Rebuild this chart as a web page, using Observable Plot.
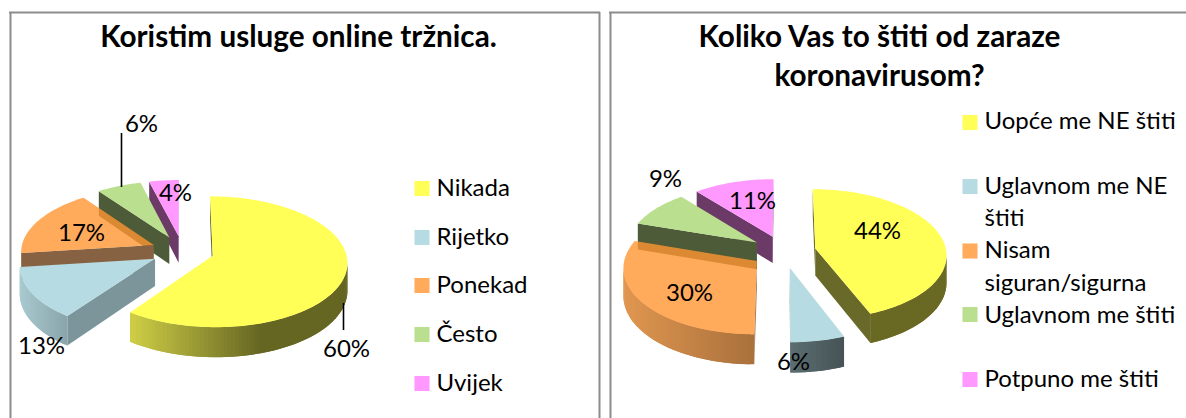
<!DOCTYPE html>
<html><head><meta charset="utf-8">
<script src="https://cdn.jsdelivr.net/npm/d3@7"></script>
<script src="https://cdn.jsdelivr.net/npm/@observablehq/plot@0.6"></script>
<style>html,body{margin:0;padding:0;background:#fff;overflow:hidden}svg{display:block}</style>
</head><body><div id="chart"></div>
<script>
// ---- data
const title1 = ["Koristim usluge online tržnica."];
const categories1 = ["Nikada", "Rijetko", "Ponekad", "Često", "Uvijek"];
const values1 = [60, 13, 17, 6, 4];
const title2 = ["Koliko Vas to štiti od zaraze", "koronavirusom?"];
const categories2 = ["Uopće me NE štiti", "Uglavnom me NE", "štiti", "Nisam", "siguran/sigurna", "Uglavnom me štiti", "Potpuno me štiti"];
const values2 = [44, 6, 30, 9, 11];

// ---- styles and layout (separate from the data)
const colors = ["#FFFF57", "#B7DBE2", "#FFAB5B", "#B9DF8F", "#FF99FF"];
const font = "Lato, Carlito, 'Open Sans', sans-serif";
const pieLayouts = [
  {cx: 182, cy: 250.5, rx: 133, ry: 64, k: 0.092, explode: 0.237, depth: 27,
   arcShade: [[0.81, 0.40, 0.6], [0.92, 0.75, 1], [0.8, 0.8, 1], [0.42, 0.42, 1], [0.42, 0.42, 1]],
   edgeColor: ["#69692A", "#7B959B", "#876242", "#4D5B38", "#6B3A66"]},
  {cx: 783, cy: 251, rx: 131, ry: 65, k: 0.088, explode: 0.248, depth: 27,
   arcShade: [[0.41, 0.41, 1], [0.5, 0.38, 1], [0.88, 0.66, 1], [0.42, 0.42, 1], [0.42, 0.42, 1]],
   edgeColor: ["#69692A", "#4B5D61", "#A87B50", "#4D5B38", "#6B3A66"]}
];

const shadeOf = (c, f) => { const r = d3.rgb(c); return d3.rgb(r.r * f, r.g * f, r.b * f).formatHex(); };

function pieMarks(values, L) {
  const total = d3.sum(values);
  const project = (X, Y, z = 0) => {
    const s = 1 / (1 - L.k * Y);
    return {x: L.cx + L.rx * X * s, y: L.cy + L.ry * Y * s + L.depth * z * s};
  };
  const slices = [];
  let acc = 0;
  values.forEach((v, i) => {
    const a0 = acc / total * 360, a1 = (acc + v) / total * 360;
    acc += v;
    const mid = (a0 + a1) / 2 * Math.PI / 180;
    const ox = L.explode * Math.sin(mid), oy = -L.explode * Math.cos(mid);
    const rim = [];
    const n = Math.max(2, Math.ceil((a1 - a0) / 1.5));
    for (let j = 0; j <= n; j++) {
      const t = (a0 + (a1 - a0) * j / n) * Math.PI / 180;
      rim.push([ox + Math.sin(t), oy - Math.cos(t)]);
    }
    slices.push({i, ox, oy, rim});
  });
  const marks = [];
  const poly = (pts, id, color) => pts.map(p => ({x: p.x, y: p.y, id, color}));
  // painter's order: back slices first
  for (const sl of [...slices].reverse()) {
    const {i, ox, oy, rim} = sl;
    const base = colors[i];
    const wall = [];
    const apex = project(ox, oy), apexLow = project(ox, oy, 1);
    const midRim = project(...rim[Math.floor(rim.length / 2)]);
    // radial walls facing the viewer
    [rim[0], rim[rim.length - 1]].forEach((r, e) => {
      const p = project(...r), pl = project(r[0], r[1], 1);
      const dx = p.x - apex.x, dy = p.y - apex.y;
      const crossDown = dx;
      const crossFace = dx * (midRim.y - apex.y) - dy * (midRim.x - apex.x);
      if (crossDown * crossFace < 0)
        wall.push(...poly([apex, p, pl, apexLow], `e${i}${e}`, L.edgeColor[i]));
    });
    // rim wall, shaded by screen position; each strip runs under the next so no seams show
    const xs = rim.map(r => project(...r).x);
    const [x0, x1] = d3.extent(xs);
    const [sl0, sl1, flat] = L.arcShade[i];
    for (let j = 0; j < rim.length - 1; j++) {
      const a = project(...rim[j]), b = project(...rim[j + 1]);
      if (b.x >= a.x) continue;
      const tt = Math.min(1, ((a.x + b.x) / 2 - x0) / (x1 - x0) / flat);
      const f = sl0 + (sl1 - sl0) * tt;
      const nx = rim[Math.min(j + 2, rim.length - 1)];
      wall.push(...poly([a, project(...nx), project(...nx, 1), project(...rim[j], 1)], `r${i}-${j}`, shadeOf(base, f)));
    }
    if (wall.length)
      marks.push(Plot.line(wall, {x: "x", y: "y", z: "id", fill: "color", stroke: "none", curve: "linear-closed"}));
    // top face; the orange one lets the wall behind it show through
    const faceColor = i === 2 ? "#FF9632" : base;
    const face = poly([apex, ...rim.map(r => project(...r))], `f${i}`, faceColor);
    marks.push(Plot.line(face, {x: "x", y: "y", z: "id", fill: "color", stroke: "none", fillOpacity: i === 2 ? 0.8 : 1, curve: "linear-closed"}));
  }
  return marks;
}

// ---- text tables
const tx = (text, x, y) => ({text, x, y});
const titles = [tx(title1[0], 298, 37), tx(title2[0], 879, 37), tx(title2[1], 879, 76)];
const valueLabels = [
  [values1[0], 346, 349], [values1[1], 41, 346], [values1[2], 81, 233], [values1[3], 141, 124], [values1[4], 175, 193],
  [values2[0], 877, 231], [values2[1], 793, 362], [values2[2], 689, 293], [values2[3], 665, 179], [values2[4], 752, 201]
].map(([v, x, y]) => tx(v + "%", x, y));
const legendText = [
  ...[188, 237, 285, 334, 383].map((y, i) => tx(categories1[i], 436, y)),
  ...[121, 186, 218, 250, 283, 315, 379].map((y, i) => tx(categories2[i], 984, y))
];
const legendSwatches = [
  ...[188, 237, 285, 334, 383].map((y, i) => ({x: 414, y, c: colors[i]})),
  ...[122, 186, 250.5, 314, 379].map((y, i) => ({x: 962, y, c: colors[i]}))
];
const leaders = [{x: 121, y1: 133, y2: 187}, {x: 343, y1: 303, y2: 330}];
const frameV = [{x: 10}, {x: 599}, {x: 610}];
const frameH = [{x1: 9, x2: 600}, {x1: 609, x2: 1186}];

const plot = Plot.plot({
  width: 1186, height: 418, margin: 0,
  x: {domain: [0, 1186], range: [0, 1186], axis: null},
  y: {domain: [0, 418], range: [0, 418], axis: null},
  color: {type: "identity"},
  style: {background: "#fff"},
  marks: [
    Plot.ruleX(frameV, {x: "x", y1: 12, y2: 418, stroke: "#8c8c8c", strokeWidth: 2}),
    Plot.ruleY(frameH, {y: 12, x1: "x1", x2: "x2", stroke: "#8c8c8c", strokeWidth: 2}),
    ...pieMarks(values1, pieLayouts[0]),
    ...pieMarks(values2, pieLayouts[1]),
    Plot.ruleX(leaders, {x: "x", y1: "y1", y2: "y2", stroke: "#000", strokeWidth: 1.6}),
    Plot.text(titles, {x: "x", y: "y", text: "text", fontFamily: font, fontWeight: 700, fontSize: 29.7, fill: "#000"}),
    Plot.text(valueLabels, {x: "x", y: "y", text: "text", fontFamily: font, fontSize: 24, fill: "#000"}),
    Plot.text(legendText, {x: "x", y: "y", text: "text", textAnchor: "start", fontFamily: font, fontSize: 24, fill: "#000"}),
    Plot.dot(legendSwatches, {x: d => d.x + 7.5, y: "y", symbol: "square", r: 8.5, fill: "c", stroke: "none"})
  ]
});
document.getElementById("chart").append(plot);
</script></body></html>
